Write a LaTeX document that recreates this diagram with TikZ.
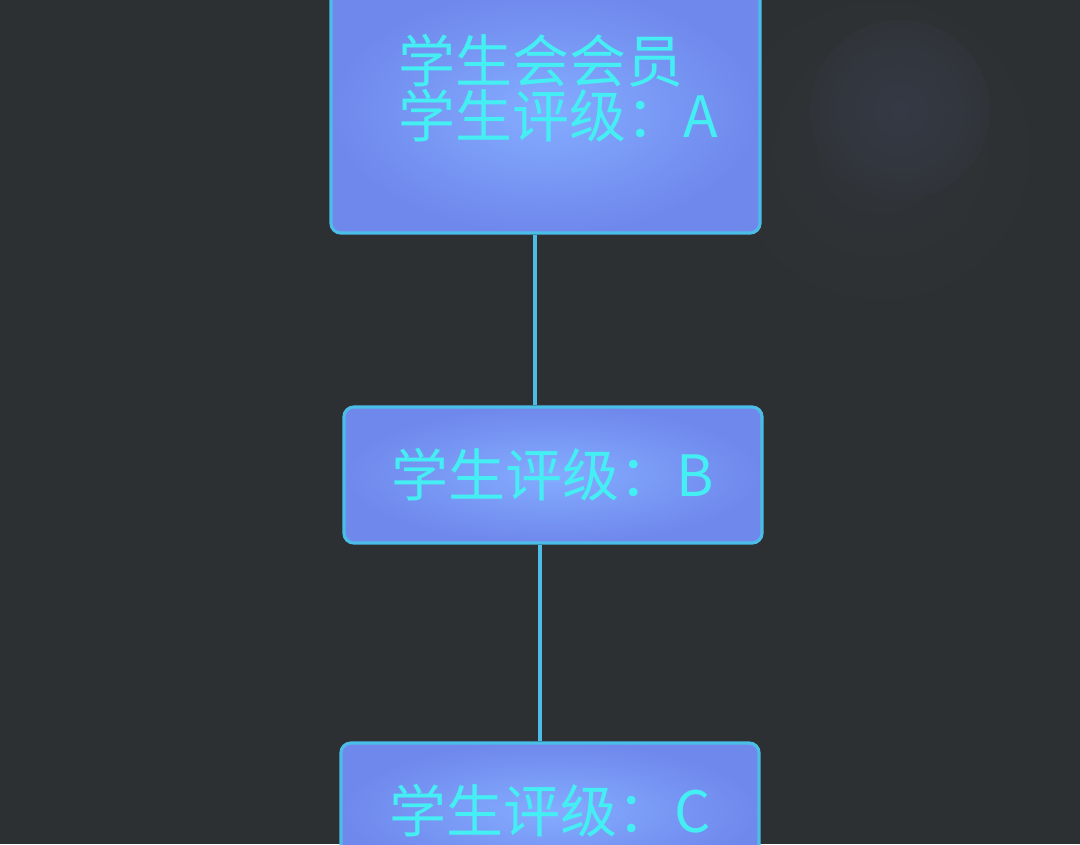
\documentclass[tikz,border=0pt]{standalone}
\usepackage{fontspec}
\setmainfont{Noto Sans CJK SC}
\usetikzlibrary{calc}
\definecolor{ozadje}{HTML}{2C3032}
\definecolor{madez}{HTML}{303439}
\definecolor{madezsr}{HTML}{353945}
\definecolor{rob}{HTML}{4CBDE6}
\definecolor{sredina}{HTML}{84ACFF}
\definecolor{zunaj}{HTML}{6F88EC}
\definecolor{napis}{HTML}{45EEF2}

\begin{document}
\begin{tikzpicture}[x=0.025cm,y=-0.025cm]
\tikzset{
  okvir/.style={draw=rob, line width=0.08cm, rounded corners=0.25cm,
    inner color=sredina, outer color=zunaj, inner sep=0pt,
    text=napis, font=\fontsize{40.5}{39}\selectfont},
  napisi/.style={text=napis, font=\fontsize{40.5}{39}\selectfont, align=left, inner sep=0pt},
  vez/.style={draw=rob, line width=0.08cm}
}
\useasboundingbox[fill=ozadje] (0,0) rectangle (1080,844);
\shade[inner color=madez, outer color=ozadje] (880,150) circle (170);
\shade[inner color=madezsr, outer color=madez] (900,110) circle (90);
\node[okvir, minimum width=10.725cm, minimum height=6.075cm] (a_0) at (545.5,111.5) {};
\node[napisi] (t_0) at (558,88) {学生会会员\\学生评级：A};
\def\ocene{{"B","C"}}
\foreach \i/\x/\y in {1/553/475, 2/550/811} {
  \pgfmathsetmacro{\k}{\ocene[\i-1]}
  \node[okvir, minimum width=10.45cm, minimum height=3.4cm] (a_\i) at (\x,\y) {学生评级：\k};
}
\draw[vez] (a_0.south -| 535,0) -- (a_1.north -| 535,0);
\draw[vez] (a_1.south -| 540,0) -- (a_2.north -| 540,0);
\end{tikzpicture}
\end{document}
